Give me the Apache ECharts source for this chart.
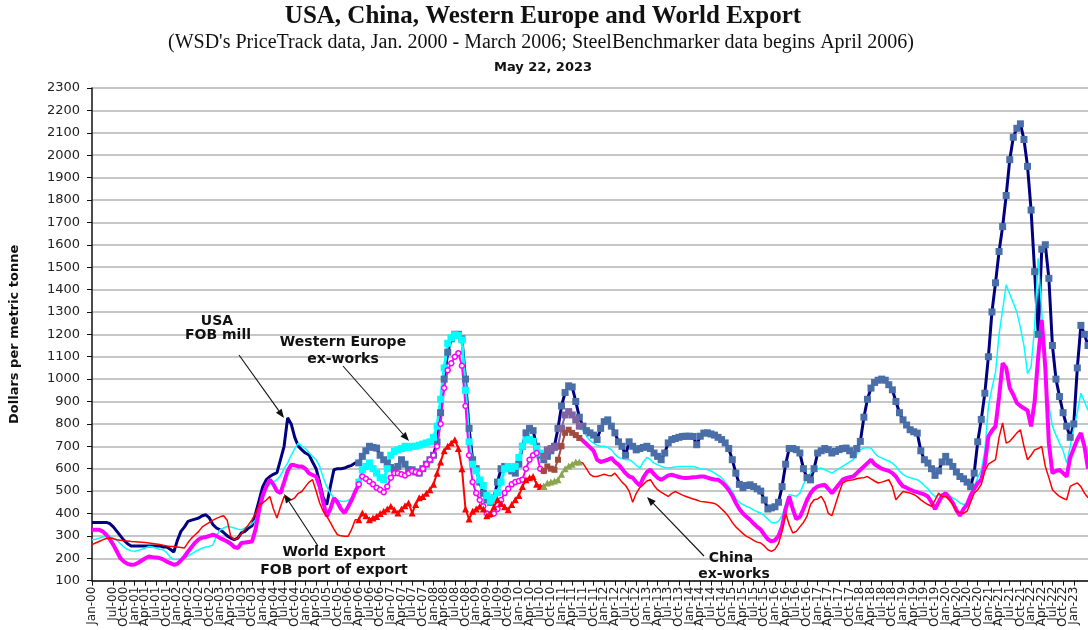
<!DOCTYPE html>
<html>
<head>
<meta charset="utf-8">
<script src="https://cdn.jsdelivr.net/npm/echarts@6/dist/echarts.min.js"></script>
<style>
html, body { margin: 0; padding: 0; background: #fff; }
#chart { width: 1088px; height: 630px; }
</style>
</head>
<body>
<div id="chart"></div>
<script>
// month labels Jan-00 .. May-23
const MONTHS = ['Jan', 'Feb', 'Mar', 'Apr', 'May', 'Jun', 'Jul', 'Aug', 'Sep', 'Oct', 'Nov', 'Dec']
const categories = []
for (let y = 2000; y <= 2023; y++) {
    MONTHS.forEach((m, k) => {
        if (y === 2023 && k > 4) return
        categories.push(m + '-' + String(y).slice(2))
    })
}

// $ per metric tonne, one row per year
const usa = [
    360, 360, 360, 360, 360, 355, 340, 320, 300, 280, 265, 255,
    255, 255, 255, 255, 255, 255, 255, 255, 250, 250, 240, 228,
    280, 320, 340, 365, 370, 375, 380, 390, 394, 380, 350, 335,
    327, 315, 300, 290, 283, 290, 313, 320, 335, 345, 400, 460,
    520, 551, 565, 575, 582, 640, 700, 827, 800, 740, 700, 684,
    670, 662, 630, 600, 540, 470, 439, 520, 595, 600, 600, 603,
    610, 615, 626, 626, 655, 680, 700, 695, 692, 660, 640, 625,
    605, 595, 610, 640, 620, 595, 595, 585, 580, 600, 620, 640,
    660, 720, 850, 1000, 1120, 1180, 1200, 1200, 1180, 1000, 780, 640,
    600, 540, 490, 460, 450, 470, 540, 600, 610, 600, 590, 580,
    620, 700, 760, 780, 770, 700, 660, 640, 655, 680, 700, 780,
    880, 940, 970, 965, 900, 830, 790, 770, 760, 750, 730, 780,
    810, 818, 790, 760, 720, 700, 660, 720, 700, 684, 690, 695,
    700, 690, 670, 655, 640, 670, 715, 730, 735, 740, 744, 745,
    745, 744, 707, 745, 759, 760, 755, 750, 740, 730, 715, 690,
    640, 580, 530, 515, 525, 528, 520, 510, 500, 460, 420, 425,
    430, 450, 520, 620, 690, 690, 685, 670, 600, 560, 550, 600,
    670, 680, 690, 685, 670, 677, 685, 690, 692, 680, 662, 690,
    722, 830, 910, 960, 985, 995, 1000, 995, 975, 952, 900, 850,
    818, 795, 774, 765, 759, 680, 640, 625, 600, 570, 590, 630,
    655, 630, 610, 585, 565, 555, 540, 520, 580, 720, 820, 937,
    1100, 1300, 1430, 1570, 1681, 1820, 1980, 2080, 2120, 2140, 2070, 1950,
    1755, 1480, 1200, 1580, 1600, 1450, 1150, 1000, 922, 850, 790, 740,
    800, 1050, 1240, 1200, 1150
]
const westEurope = [
    283, 285, 290, 295, 298, 298, 290, 280, 265, 250, 240, 233,
    231, 235, 240, 245, 253, 250, 245, 240, 238, 225, 205, 194,
    195, 198, 201, 210, 220, 230, 238, 245, 250, 253, 260, 300,
    327, 335, 342, 340, 335, 330, 327, 335, 345, 355, 372, 420,
    470, 515, 530, 540, 551, 570, 600, 626, 660, 690, 714, 700,
    690, 671, 655, 640, 610, 560, 520, 490, 470, 460, 455, 454,
    458, 470, 492, 540, 595, 610, 626, 600, 580, 560, 551, 600,
    660, 677, 684, 690, 700, 695, 700, 700, 705, 710, 715, 720,
    740, 790, 910, 1050, 1160, 1185, 1198, 1195, 1175, 950, 720, 620,
    590, 550, 525, 480, 455, 470, 493, 540, 600, 610, 600, 610,
    650, 700, 729, 730, 722, 690, 670, 655, 684, 690, 695, 700,
    780, 840, 855, 840, 818, 790, 770, 745, 725, 714, 705, 700,
    700, 695, 684, 665, 650, 645, 640, 640, 630, 615, 603, 630,
    650, 640, 625, 618, 610, 605, 603, 605, 608, 610, 610, 610,
    610, 610, 605, 600, 598, 595, 590, 580, 570, 560, 540, 521,
    500, 465, 450, 440, 432, 425, 415, 408, 402, 390, 375, 360,
    357, 365, 390, 440, 484, 480, 477, 491, 530, 560, 580, 595,
    600, 603, 595, 588, 580, 590, 600, 610, 620, 630, 640, 665,
    685, 692, 695, 692, 670, 655, 648, 640, 635, 625, 610, 590,
    575, 565, 560, 555, 551, 540, 525, 510, 490, 476, 480, 488,
    491, 480, 470, 461, 447, 440, 445, 470, 520, 560, 595, 680,
    880, 960, 1030, 1200, 1309, 1421, 1380, 1340, 1300, 1230, 1150, 1026,
    1056, 1235, 1540, 1300, 1012, 880, 789, 750, 714, 680, 625, 700,
    780, 850, 937, 900, 860
]
const worldExport = [
    327, 327, 327, 320, 305, 285, 260, 230, 200, 185, 175, 171,
    172, 180, 190, 200, 208, 205, 203, 201, 195, 185, 178, 171,
    175, 190, 208, 230, 250, 270, 285, 292, 295, 300, 305, 300,
    290, 283, 275, 265, 250, 246, 268, 270, 273, 275, 330, 417,
    480, 520, 551, 530, 500, 491, 540, 590, 618, 615, 610, 610,
    600, 580, 572, 565, 520, 450, 387, 420, 469, 450, 420, 402,
    430, 460, 498, 530, 565, 555, 543, 530, 515, 506, 495, 520,
    560, 580, 580, 575, 570, 580, 590, 585, 580, 600, 620, 640,
    660, 700, 800, 960, 1040, 1071, 1100, 1116, 1060, 880, 660, 540,
    491, 460, 432, 400, 395, 400, 420, 460, 491, 510, 530, 540,
    545, 551, 600, 640, 660, 670, 600, 590, 610, 600, 595, 640,
    700, 760, 774, 760, 750, 737, 725, 710, 695, 680, 640, 630,
    635, 640, 648, 630, 618, 600, 580, 565, 560, 540, 525, 560,
    585, 595, 575, 560, 551, 560, 570, 573, 568, 563, 560, 558,
    560, 562, 563, 565, 565, 560, 555, 552, 551, 540, 525, 505,
    480, 447, 420, 400, 385, 372, 355, 340, 328, 305, 285, 275,
    280, 300, 342, 420, 476, 420, 375, 385, 420, 460, 490, 510,
    521, 525, 528, 510, 491, 510, 530, 551, 558, 562, 565, 580,
    595, 610, 625, 640, 620, 610, 600, 595, 590, 580, 565, 540,
    521, 515, 506, 500, 495, 490, 485, 476, 450, 420, 450, 480,
    491, 470, 447, 415, 390, 420, 440, 480, 510, 535, 551, 620,
    744, 770, 789, 920, 1071, 1050, 960, 930, 893, 880, 870, 860,
    789, 900, 1100, 1264, 1050, 714, 580, 590, 595, 580, 565, 650,
    690, 730, 759, 700, 600
]
const china = [
    261, 268, 275, 282, 288, 290, 287, 283, 280, 278, 277, 275,
    274, 273, 272, 270, 268, 266, 264, 262, 258, 255, 253, 252,
    250, 248, 246, 270, 290, 305, 320, 340, 350, 360, 370, 378,
    385, 390, 370, 298, 283, 290, 310, 330, 350, 372, 400, 440,
    447, 460, 476, 420, 380, 430, 476, 461, 461, 470, 490, 498,
    520, 540, 551, 500, 447, 410, 387, 360, 330, 305, 300, 298,
    298, 330, 372, 372, 402, 390, 372, 380, 387, 400, 410, 420,
    432, 415, 402, 420, 435, 447, 402, 440, 470, 476, 490, 506,
    530, 580, 630, 680, 700, 715, 729, 690, 600, 420, 375, 410,
    420, 432, 420, 390, 400, 430, 461, 445, 430, 417, 440, 461,
    480, 520, 551, 560, 565, 530, 521, 521, 536, 540, 545, 551,
    575, 600, 612, 620, 630, 630, 625, 600, 575, 565, 565, 570,
    575, 570, 568, 580, 560, 540, 525, 500, 450, 490, 515, 530,
    545, 551, 525, 506, 495, 485, 476, 490, 498, 490, 482, 476,
    470, 465, 460, 454, 452, 450, 448, 445, 435, 420, 405, 385,
    360, 340, 325, 310, 298, 290, 280, 272, 268, 255, 238, 231,
    240, 265, 320, 402, 350, 313, 320, 340, 360, 387, 440, 461,
    465, 476, 450, 400, 390, 440, 490, 536, 545, 548, 551, 555,
    558, 560, 565, 555, 545, 536, 540, 545, 551, 520, 461, 480,
    498, 495, 491, 485, 475, 461, 450, 440, 432, 460, 491, 475,
    475, 461, 440, 410, 402, 400, 410, 450, 490, 506, 530, 590,
    620, 630, 640, 740, 804, 714, 722, 740, 760, 774, 700, 640,
    660, 684, 690, 699, 610, 560, 506, 490, 476, 468, 461, 521,
    530, 536, 520, 491, 470
]

// source periods: WSD to Mar-06, SteelBenchmarker from Apr-06
const SBB_START = 75
const MID_START = 127
const LATE_START = 137
const END = categories.length - 1

const seg = (arr, a, b) => arr.map((v, i) => (i >= a && i <= b ? v : null))

const lineSeries = (name, data, color, width, extra = {}) => Object.assign({
    name,
    type: 'line',
    data,
    symbol: 'none',
    showAllSymbol: true,
    connectNulls: false,
    lineStyle: { color, width },
    itemStyle: { color },
    emphasis: { disabled: true },
}, extra)

const marked = (symbol, size, fill, border) => ({
    symbol,
    symbolSize: size,
    itemStyle: { color: fill, borderColor: border || fill, borderWidth: border ? 1.5 : 0 },
})

const arrow = (x1, y1, x2, y2) => {
    const a = Math.atan2(y2 - y1, x2 - x1)
    const bx = x2 - 9 * Math.cos(a)
    const by = y2 - 9 * Math.sin(a)
    const px = -Math.sin(a) * 3.5
    const py = Math.cos(a) * 3.5
    return [
        { type: 'line', z: 100, shape: { x1, y1, x2: bx, y2: by }, style: { stroke: '#111', lineWidth: 1.1 } },
        { type: 'polygon', z: 100, shape: { points: [[x2, y2], [bx + px, by + py], [bx - px, by - py]] }, style: { fill: '#111' } },
    ]
}

const label = (text, x, y, font) => ({
    type: 'text', z: 100, x, y,
    style: { text, font, fill: '#111', textAlign: 'center', textVerticalAlign: 'middle', align: 'center', verticalAlign: 'middle' },
})

const NAVY = '#000080'
const STEEL = '#4a6fa8'
const CYAN = '#00ffff'
const MAGENTA = '#ff00ff'
const RED = '#ff0000'
const NOTE_FONT = 'bold 14px "DejaVu Sans"'

const option = {
    animation: false,
    backgroundColor: '#fff',
    grid: { left: 88, right: -2, top: 88, bottom: 49 },
    xAxis: {
        type: 'category',
        data: categories,
        boundaryGap: false,
        axisLine: { lineStyle: { color: '#111', width: 1.5 } },
        axisTick: { interval: 2, length: 5, lineStyle: { color: '#111' } },
        axisLabel: {
            interval: 2, rotate: 90, margin: 6, fontSize: 12, color: '#222',
            fontFamily: 'DejaVu Sans', showMinLabel: true,
        },
        splitLine: { show: false },
    },
    yAxis: {
        type: 'value',
        min: 100,
        max: 2300,
        interval: 100,
        name: 'Dollars per metric tonne',
        nameLocation: 'middle',
        nameGap: 71,
        nameTextStyle: { fontWeight: 'bold', fontSize: 13, color: '#111', fontFamily: 'DejaVu Sans' },
        axisLine: { show: true, lineStyle: { color: '#111', width: 1.5 } },
        axisTick: { show: true, length: 5, lineStyle: { color: '#111' } },
        axisLabel: { margin: 12, fontSize: 13, color: '#222', fontFamily: 'DejaVu Sans', formatter: v => String(v) },
        splitLine: { lineStyle: { color: '#b4b4b4', width: 1.6 } },
    },
    series: [
        lineSeries('USA WSD', seg(usa, 0, SBB_START), NAVY, 3),
        lineSeries('USA SBB', seg(usa, SBB_START, END), NAVY, 3, marked('rect', 7, STEEL)),

        lineSeries('WE WSD', seg(westEurope, 0, SBB_START), CYAN, 1.5),
        lineSeries('WE SBB', seg(westEurope, SBB_START, MID_START), CYAN, 3, marked('rect', 7, CYAN)),
        lineSeries('WE mid', seg(westEurope, MID_START, LATE_START), '#8064a2', 2, marked('rect', 7, '#8064a2')),
        lineSeries('WE late', seg(westEurope, LATE_START, END), CYAN, 1.5),

        lineSeries('World WSD', seg(worldExport, 0, SBB_START), MAGENTA, 4),
        lineSeries('World SBB', seg(worldExport, SBB_START, MID_START), MAGENTA, 2, marked('circle', 5, '#fff', MAGENTA)),
        lineSeries('World mid', seg(worldExport, MID_START, LATE_START), '#a24a3c', 2, marked('rect', 6, '#a24a3c')),
        lineSeries('World late', seg(worldExport, LATE_START, END), MAGENTA, 4),

        lineSeries('China WSD', seg(china, 0, SBB_START), RED, 1.5),
        lineSeries('China SBB', seg(china, SBB_START, MID_START), RED, 2, marked('triangle', 7, RED)),
        lineSeries('China mid', seg(china, MID_START, LATE_START), '#8aa64e', 2, marked('triangle', 7, '#8aa64e')),
        lineSeries('China late', seg(china, LATE_START, END), RED, 1.5),
    ],
    graphic: [
        label('USA, China, Western Europe and World Export', 543, 17, 'bold 25px "Liberation Serif"'),
        label("(WSD's PriceTrack data, Jan. 2000 - March 2006; SteelBenchmarker data begins April 2006)", 541, 43, '20px "Liberation Serif"'),
        label('May 22, 2023', 543, 68, 'bold 13px "DejaVu Sans"'),

        label('USA', 217, 321, NOTE_FONT),
        label('FOB mill', 218, 335, NOTE_FONT),
        ...arrow(239, 355, 284, 418),

        label('Western Europe', 343, 342, NOTE_FONT),
        label('ex-works', 343, 359, NOTE_FONT),
        ...arrow(343, 366, 409, 441),

        label('World Export', 334, 552, NOTE_FONT),
        label('FOB port of export', 334, 570, NOTE_FONT),
        ...arrow(318, 546, 284, 494),

        label('China', 731, 558, NOTE_FONT),
        label('ex-works', 734, 574, NOTE_FONT),
        ...arrow(704, 556, 647, 497),
    ],
}

const chart = echarts.init(document.getElementById('chart'))
chart.setOption(option)
</script>
</body>
</html>
